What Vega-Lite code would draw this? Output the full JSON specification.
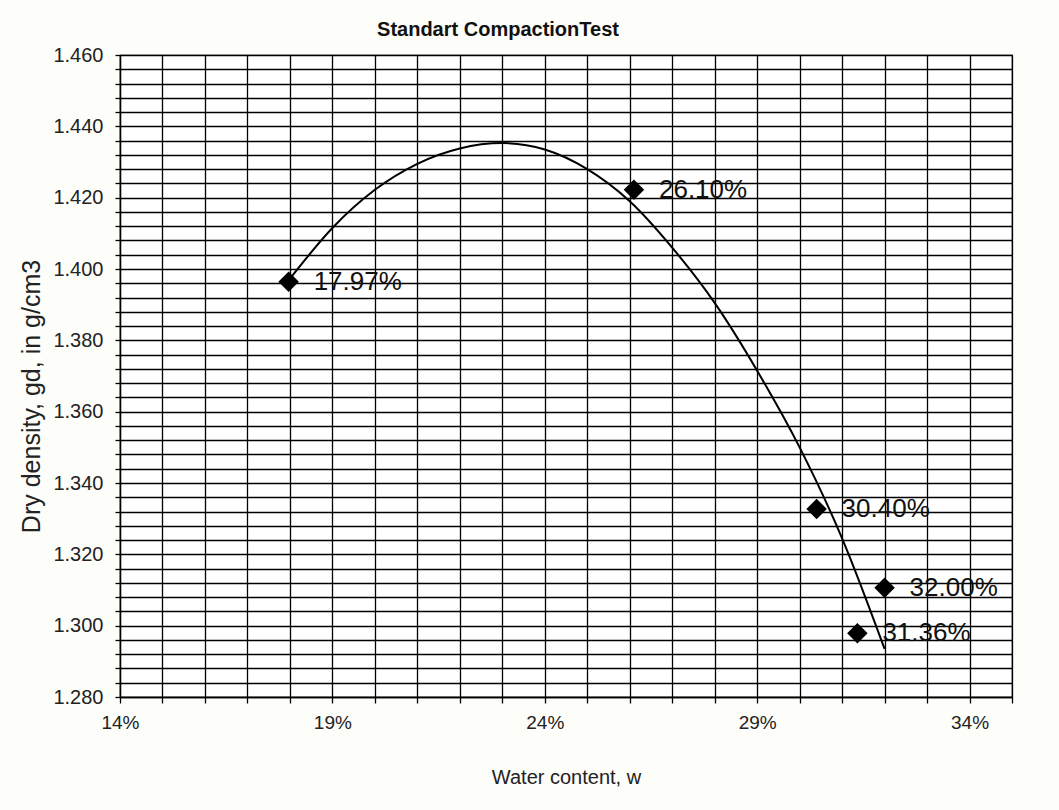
{
  "$schema": "https://vega.github.io/schema/vega-lite/v6.json",
  "autosize": {"type": "none"},
  "width": 892,
  "height": 642,
  "padding": {"left": 120, "top": 55, "right": 47, "bottom": 113},
  "background": "#fdfdfa",
  "config": {
    "view": {"stroke": "#000", "strokeWidth": 1.2, "fill": "#ffffff"},
    "font": "Liberation Sans"
  },
  "title": {
    "text": "Standart CompactionTest",
    "font": "Liberation Sans",
    "fontSize": 20,
    "fontWeight": "bold",
    "color": "#111",
    "anchor": "middle",
    "frame": "group",
    "dx": -68,
    "offset": 5
  },
  "datasets": {
    "points": [
      {"w": 0.1797, "gd": 1.3964, "label": "17.97%"},
      {"w": 0.2610, "gd": 1.4222, "label": "26.10%"},
      {"w": 0.3040, "gd": 1.3327, "label": "30.40%"},
      {"w": 0.3136, "gd": 1.2979, "label": "31.36%"},
      {"w": 0.3200, "gd": 1.3106, "label": "32.00%"}
    ],
    "trend": [
      {"w": 0.1797, "gd": 1.3968},
      {"w": 0.19, "gd": 1.4115},
      {"w": 0.20, "gd": 1.4222},
      {"w": 0.21, "gd": 1.4295},
      {"w": 0.22, "gd": 1.4338},
      {"w": 0.23, "gd": 1.4353},
      {"w": 0.24, "gd": 1.4335},
      {"w": 0.25, "gd": 1.4280},
      {"w": 0.26, "gd": 1.4190},
      {"w": 0.27, "gd": 1.4060},
      {"w": 0.28, "gd": 1.3905},
      {"w": 0.29, "gd": 1.3715},
      {"w": 0.30, "gd": 1.3500},
      {"w": 0.31, "gd": 1.3245},
      {"w": 0.32, "gd": 1.2935}
    ]
  },
  "encoding": {
    "x": {
      "field": "w",
      "type": "quantitative",
      "scale": {"domain": [0.14, 0.35], "nice": false, "zero": false},
      "axis": {
        "title": "Water content, w",
        "titleFont": "Liberation Sans",
        "titleFontSize": 20,
        "titleFontWeight": "normal",
        "titleColor": "#222",
        "titleY": 80,
        "titleBaseline": "middle",
        "values": [0.14, 0.15, 0.16, 0.17, 0.18, 0.19, 0.20, 0.21, 0.22, 0.23, 0.24, 0.25, 0.26, 0.27, 0.28, 0.29, 0.30, 0.31, 0.32, 0.33, 0.34, 0.35],
        "labelExpr": "round(datum.value*100) % 5 == 4 ? format(datum.value, '.0%') : ''",
        "labelFont": "Liberation Sans",
        "labelFontSize": 19,
        "labelColor": "#222",
        "labelPadding": 10,
        "labelFlush": false,
        "grid": true,
        "gridColor": "#000",
        "gridWidth": 1.3,
        "gridOpacity": 1,
        "tickColor": "#000",
        "tickSize": 6,
        "tickWidth": 1.3,
        "domainColor": "#000",
        "domainWidth": 1.3
      }
    },
    "y": {
      "field": "gd",
      "type": "quantitative",
      "scale": {"domain": [1.28, 1.46], "nice": false, "zero": false},
      "axis": {
        "title": "Dry density, gd, in g/cm3",
        "titleFont": "Liberation Sans",
        "titleFontSize": 25,
        "titleFontWeight": "normal",
        "titleColor": "#222",
        "titleX": -89,
        "titleY": 341,
        "titleAngle": -90,
        "titleAlign": "center",
        "titleBaseline": "middle",
        "values": [1.28, 1.284, 1.288, 1.292, 1.296, 1.3, 1.304, 1.308, 1.312, 1.316, 1.32, 1.324, 1.328, 1.332, 1.336, 1.34, 1.344, 1.348, 1.352, 1.356, 1.36, 1.364, 1.368, 1.372, 1.376, 1.38, 1.384, 1.388, 1.392, 1.396, 1.4, 1.404, 1.408, 1.412, 1.416, 1.42, 1.424, 1.428, 1.432, 1.436, 1.44, 1.444, 1.448, 1.452, 1.456, 1.46],
        "labelExpr": "round(datum.value*1000) % 20 == 0 ? format(datum.value, '.3f') : ''",
        "labelFont": "Liberation Sans",
        "labelFontSize": 20,
        "labelColor": "#222",
        "labelPadding": 12,
        "labelFlush": false,
        "grid": true,
        "gridColor": "#000",
        "gridWidth": 1.3,
        "gridOpacity": 1,
        "tickColor": "#000",
        "tickSize": 5,
        "tickWidth": 1.3,
        "domainColor": "#000",
        "domainWidth": 1.3
      }
    }
  },
  "layer": [
    {
      "data": {"name": "trend"},
      "mark": {"type": "line", "color": "#000", "strokeWidth": 2, "interpolate": "monotone"},
      "encoding": {}
    },
    {
      "data": {"name": "points"},
      "mark": {"type": "point", "shape": "diamond", "filled": true, "color": "#000", "opacity": 1, "size": 420},
      "encoding": {}
    },
    {
      "data": {"name": "points"},
      "mark": {"type": "text", "align": "left", "baseline": "middle", "dx": 25, "fontSize": 26, "font": "Liberation Sans", "color": "#111"},
      "encoding": {"text": {"field": "label"}}
    }
  ]
}
